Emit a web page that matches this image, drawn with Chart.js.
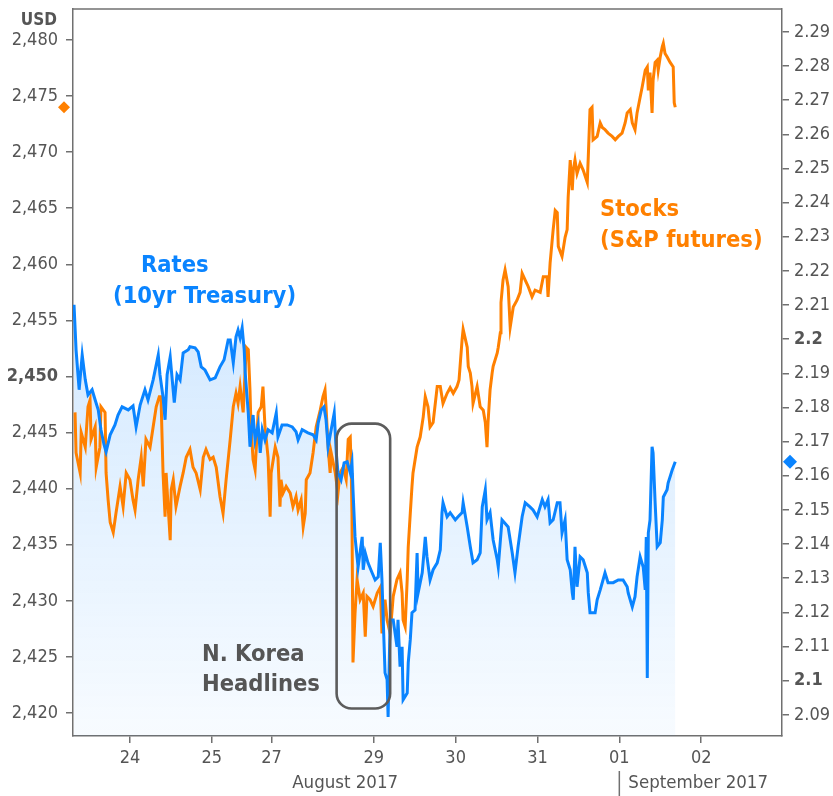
<!DOCTYPE html>
<html>
<head>
<meta charset="utf-8">
<script src="https://cdn.jsdelivr.net/npm/chart.js@4.4.1/dist/chart.umd.min.js"></script>
<style>
  html, body { margin: 0; padding: 0; background: #fff; }
</style>
</head>
<body>
<canvas id="rates-stocks-chart" width="833" height="796"></canvas>
<script>
// x values are trading hours on a compressed timeline (weekend cut out), Aug 23 00:00 = 0
const dayTickHours = [24, 48, 65.5, 95.5, 119.5, 143.5, 167.5, 191.5]
const dayTickLabels = ["24", "25", "27", "29", "30", "31", "01", "02"]
const usdTicks = [2420, 2425, 2430, 2435, 2440, 2445, 2450, 2455, 2460, 2465, 2470, 2475, 2480]
const yieldTicks = [2.09, 2.1, 2.11, 2.12, 2.13, 2.14, 2.15, 2.16, 2.17, 2.18, 2.19, 2.2, 2.21, 2.22, 2.23, 2.24, 2.25, 2.26, 2.27, 2.28, 2.29]

// Stocks (S&P futures), left axis
const stockHours = [
  7.9, 8.2, 9.4, 9.7, 10.9, 11.7, 12.3, 12.6, 13.8, 14.1, 15.2, 15.5, 16.7, 17.0, 17.6, 18.2, 19.1, 19.9, 21.1, 22.0,
  22.9, 24.0, 24.9, 25.5, 26.4, 27.3, 27.9, 28.7, 29.9, 30.8, 31.7, 32.6, 33.1, 33.7, 34.3, 34.6, 35.8, 36.1, 36.7, 37.5,
  38.7, 39.6, 40.5, 41.6, 42.5, 43.4, 44.6, 45.5, 46.3, 47.5, 48.4, 49.3, 50.4, 51.3, 52.2, 53.4, 54.3, 55.1, 55.7, 56.3,
  57.2, 58.1, 58.7, 59.2, 59.5, 60.1, 60.7, 61.6, 62.5, 63.0, 63.6, 64.5, 65.1, 65.4, 66.6, 67.4, 68.0, 68.3, 68.9, 69.8,
  71.0, 71.8, 72.7, 73.3, 74.2, 74.8, 75.4, 75.7, 76.8, 77.7, 78.6, 79.8, 80.6, 81.2, 81.5, 82.1, 82.7, 83.0, 84.2, 85.0,
  85.6, 86.5, 87.4, 88.0, 88.6, 88.9, 89.1, 89.4, 90.0, 90.6, 91.5, 92.4, 93.0, 93.5, 94.4, 95.3, 96.5, 97.4, 97.9, 98.8,
  99.4, 100.3, 101.2, 102.3, 103.2, 103.8, 104.1, 104.7, 105.3, 105.6, 106.2, 106.7, 107.0, 108.2, 109.1, 110.0, 110.6, 111.4, 112.0, 112.9,
  114.1, 115.0, 115.8, 117.0, 117.9, 118.8, 119.9, 120.5, 121.4, 121.7, 122.9, 123.2, 123.8, 124.3, 124.6, 125.8, 126.7, 127.6, 128.2, 128.7,
  129.0, 129.6, 130.2, 130.5, 131.7, 132.0, 132.6, 132.8, 133.4, 134.0, 134.9, 135.5, 136.4, 137.5, 138.4, 139.0, 139.9, 140.8, 141.9, 142.8,
  144.3, 145.2, 146.3, 146.6, 147.2, 148.1, 148.7, 149.3, 149.6, 150.7, 151.6, 152.2, 152.5, 153.1, 153.7, 154.0, 154.5, 155.1, 156.0, 156.9,
  158.1, 158.4, 158.9, 159.5, 159.8, 161.0, 161.9, 162.5, 163.3, 164.2, 165.4, 166.3, 167.2, 168.3, 169.2, 169.8, 170.7, 171.3, 172.1, 172.7,
  173.6, 174.2, 175.1, 175.7, 176.0, 176.5, 177.1, 177.4, 178.0, 178.6, 178.9, 179.5, 180.1, 180.4, 180.9, 181.5, 182.4, 183.3, 183.6, 183.9
]
const stockValues = [
  2446.8, 2443.2, 2441.4, 2445.0, 2443.7, 2447.3, 2447.9, 2444.4, 2445.5, 2441.9, 2443.7, 2447.3, 2446.8, 2441.4, 2439.0, 2437.0, 2436.1, 2437.8, 2440.2, 2438.4,
  2441.4, 2440.8, 2439.0, 2438.1, 2440.8, 2442.8, 2440.2, 2444.4, 2443.7, 2445.5, 2447.3, 2448.2, 2448.2, 2441.4, 2437.5, 2441.4, 2435.4, 2439.9, 2440.8, 2438.4,
  2440.2, 2441.4, 2442.8, 2443.5, 2441.9, 2441.4, 2439.9, 2442.8, 2443.5, 2442.6, 2442.8, 2441.9, 2439.3, 2437.8, 2440.8, 2444.4, 2447.3, 2448.5, 2447.6, 2449.1,
  2446.8, 2452.6, 2452.4, 2448.8, 2445.5, 2442.6, 2441.7, 2446.8, 2447.3, 2449.1, 2445.5, 2442.8, 2437.5, 2441.4, 2443.7, 2442.8, 2438.4, 2440.8, 2439.6, 2440.2,
  2439.6, 2438.4, 2439.3, 2438.1, 2439.0, 2436.6, 2437.8, 2440.8, 2441.4, 2443.2, 2445.5, 2447.0, 2448.2, 2448.8, 2447.3, 2443.7, 2441.4, 2443.2, 2441.4, 2439.6,
  2441.4, 2441.9, 2440.8, 2444.4, 2444.6, 2441.4, 2437.8, 2424.5, 2428.9, 2431.9, 2430.1, 2430.7, 2426.8, 2430.4, 2430.1, 2429.5, 2430.7, 2431.2, 2427.1, 2430.1,
  2428.3, 2427.1, 2430.4, 2431.9, 2432.5, 2430.7, 2428.3, 2427.7, 2431.9, 2434.8, 2437.8, 2440.2, 2441.4, 2443.7, 2444.6, 2446.4, 2448.2, 2447.3, 2445.5, 2445.9,
  2449.1, 2449.1, 2447.6, 2448.5, 2449.0, 2448.5, 2449.1, 2449.7, 2453.3, 2454.2, 2452.6, 2450.9, 2450.3, 2449.1, 2447.6, 2449.1, 2447.3, 2447.0, 2445.9, 2443.7,
  2445.9, 2448.8, 2450.3, 2450.9, 2452.1, 2452.6, 2453.9, 2456.6, 2458.6, 2459.5, 2458.0, 2454.4, 2456.2, 2456.8, 2457.5, 2459.2, 2458.6, 2458.0, 2457.1, 2457.7,
  2457.5, 2458.9, 2458.9, 2457.1, 2460.1, 2463.1, 2464.8, 2464.6, 2461.6, 2460.7, 2462.4, 2463.1, 2466.0, 2469.3, 2466.6, 2468.4, 2469.3, 2468.1, 2469.0, 2468.4,
  2467.3, 2469.6, 2473.8, 2474.0, 2471.1, 2471.4, 2472.6, 2472.2, 2472.0, 2471.7, 2471.4, 2471.1, 2471.4, 2471.7, 2472.6, 2473.5, 2473.8, 2472.6, 2472.0, 2473.5,
  2474.9, 2475.8, 2477.3, 2477.6, 2475.5, 2477.1, 2473.5, 2476.4, 2478.0, 2478.2, 2477.3, 2478.5, 2479.4, 2479.7, 2478.8, 2478.5, 2478.0, 2477.6, 2474.4, 2474.0
]

// Rates (10yr Treasury yield), right axis
const rateHours = [
  7.6, 8.2, 9.1, 10.0, 10.9, 11.7, 12.9, 13.8, 14.7, 15.5, 16.4, 17.0, 18.2, 19.6, 20.5, 21.7, 23.5, 24.9, 25.8, 27.0,
  28.4, 29.3, 30.8, 32.3, 32.8, 33.7, 34.3, 34.9, 35.8, 37.0, 37.8, 38.7, 39.6, 41.1, 41.6, 43.1, 44.0, 44.9, 46.0, 47.5,
  49.0, 50.4, 51.6, 52.8, 53.4, 54.3, 55.1, 55.7, 56.3, 56.9, 57.5, 57.8, 58.7, 59.2, 60.1, 60.7, 61.6, 62.2, 62.8, 63.6,
  64.5, 65.7, 66.9, 67.4, 68.6, 70.1, 71.6, 72.7, 73.3, 74.5, 76.2, 77.7, 78.6, 79.2, 80.1, 80.9, 81.5, 82.1, 83.0, 83.9,
  84.5, 85.0, 85.9, 86.8, 87.7, 88.6, 89.1, 89.4, 90.0, 90.9, 92.1, 92.4, 93.0, 93.8, 95.0, 95.9, 96.8, 97.4, 97.9, 98.2,
  98.8, 99.4, 99.7, 100.3, 101.2, 102.3, 102.6, 103.2, 103.8, 104.1, 105.3, 105.6, 106.2, 106.7, 107.6, 108.2, 108.5, 109.7, 110.6, 111.1,
  112.0, 112.9, 114.1, 115.0, 115.5, 115.8, 117.0, 117.9, 119.4, 120.2, 121.4, 121.7, 122.9, 123.8, 124.6, 125.8, 126.7, 127.3, 128.2, 128.7,
  129.6, 130.5, 131.7, 132.0, 133.1, 134.9, 136.1, 136.9, 137.8, 139.0, 139.9, 141.3, 142.2, 143.4, 144.9, 145.7, 146.6, 147.2, 148.1, 149.3,
  150.1, 150.7, 151.6, 152.2, 153.1, 153.7, 154.0, 154.5, 155.1, 156.0, 156.9, 158.1, 158.4, 158.9, 160.4, 161.0, 161.9, 163.3, 164.2, 165.7,
  167.2, 168.6, 169.8, 170.1, 171.3, 172.1, 172.7, 173.6, 174.5, 175.1, 175.4, 175.7, 176.0, 176.5, 177.1, 177.4, 178.0, 178.6, 179.5, 180.1,
  180.4, 181.5, 181.8, 183.0, 183.9
]
const rateValues = [
  2.2101, 2.1969, 2.1852, 2.1954, 2.1881, 2.1837, 2.1852, 2.1822, 2.1793, 2.1735, 2.1691, 2.1670, 2.1720, 2.1749, 2.1778, 2.1802, 2.1793, 2.1805, 2.1743, 2.1808,
  2.1852, 2.1822, 2.1881, 2.1954, 2.1896, 2.1831, 2.1764, 2.1896, 2.1948, 2.1814, 2.1896, 2.1881, 2.1960, 2.1969, 2.1978, 2.1975, 2.1963, 2.1919, 2.1910, 2.1881,
  2.1887, 2.1919, 2.1940, 2.1998, 2.1998, 2.1931, 2.2007, 2.2027, 2.2004, 2.2033, 2.1969, 2.1901, 2.1784, 2.1685, 2.1778, 2.1705, 2.1749, 2.1667, 2.1735, 2.1705,
  2.1735, 2.1726, 2.1784, 2.1714, 2.1749, 2.1749, 2.1743, 2.1729, 2.1705, 2.1735, 2.1726, 2.1720, 2.1705, 2.1755, 2.1793, 2.1802, 2.1764, 2.1685, 2.1735, 2.1784,
  2.1667, 2.1609, 2.1588, 2.1638, 2.1641, 2.1609, 2.1638, 2.1559, 2.1421, 2.1333, 2.1421, 2.1325, 2.1374, 2.1345, 2.1316, 2.1295, 2.1304, 2.1404, 2.1295, 2.1199,
  2.1023, 2.1003, 2.0894, 2.1178, 2.1178, 2.1099, 2.1178, 2.1041, 2.1099, 2.0944, 2.0964, 2.1052, 2.1120, 2.1199, 2.1207, 2.1374, 2.1257, 2.1316, 2.1421, 2.1363,
  2.1295, 2.1325, 2.1345, 2.1383, 2.1492, 2.1521, 2.1480, 2.1492, 2.1471, 2.1480, 2.1492, 2.1521, 2.1450, 2.1392, 2.1345, 2.1354, 2.1374, 2.1509, 2.1559, 2.1471,
  2.1492, 2.1412, 2.1354, 2.1333, 2.1471, 2.1450, 2.1374, 2.1316, 2.1392, 2.1480, 2.1521, 2.1509, 2.1500, 2.1480, 2.1530, 2.1509, 2.1530, 2.1462, 2.1471, 2.1521,
  2.1521, 2.1433, 2.1471, 2.1354, 2.1325, 2.1257, 2.1237, 2.1392, 2.1275, 2.1363, 2.1354, 2.1316, 2.1257, 2.1199, 2.1199, 2.1237, 2.1266, 2.1316, 2.1287, 2.1287,
  2.1295, 2.1295, 2.1275, 2.1257, 2.1216, 2.1246, 2.1304, 2.1363, 2.1333, 2.1266, 2.1421, 2.1008, 2.1433, 2.1471, 2.1685, 2.1667, 2.1521, 2.1392, 2.1404, 2.1471,
  2.1538, 2.1559, 2.1579, 2.1617, 2.1641
]

const BLUE = "#0a84ff"
const ORANGE = "#ff8000"
const AXIS = "#707070"
const LABEL = "#555555"
const FONT = '"DejaVu Sans Condensed", "DejaVu Sans", sans-serif'

const toPoints = (xs, ys) => xs.map((x, i) => ({ x: x, y: ys[i] }))

const rateFill = (context) => {
  const chart = context.chart
  const area = chart.chartArea
  if (!area) return "rgba(10,132,255,0.1)"
  const g = chart.ctx.createLinearGradient(0, 300, 0, area.bottom)
  g.addColorStop(0, "rgba(10,132,255,0.18)")
  g.addColorStop(1, "rgba(10,132,255,0.03)")
  return g
}

const diamond = (ctx, x, y, r, color) => {
  ctx.fillStyle = color
  ctx.beginPath()
  ctx.moveTo(x, y - r)
  ctx.lineTo(x + r, y)
  ctx.lineTo(x, y + r)
  ctx.lineTo(x - r, y)
  ctx.closePath()
  ctx.fill()
}

const annotations = {
  id: "annotations",
  afterDatasetsDraw(chart) {
    const { ctx, chartArea: area, scales } = chart
    ctx.save()

    // frame top
    ctx.strokeStyle = AXIS
    ctx.lineWidth = 1.5
    ctx.beginPath()
    ctx.moveTo(area.left, area.top)
    ctx.lineTo(area.right, area.top)
    ctx.stroke()

    // N. Korea headlines box
    const bx1 = scales.x.getPixelForValue(84.6)
    const bx2 = scales.x.getPixelForValue(100.3)
    const by1 = scales.usd.getPixelForValue(2445.8)
    const by2 = scales.usd.getPixelForValue(2420.4)
    ctx.strokeStyle = "#5c5c5c"
    ctx.lineWidth = 2.6
    ctx.beginPath()
    ctx.roundRect(bx1, by1, bx2 - bx1, by2 - by1, 15)
    ctx.stroke()

    ctx.textBaseline = "middle"
    ctx.textAlign = "left"
    ctx.font = "bold 23.5px " + FONT
    ctx.fillStyle = BLUE
    ctx.fillText("Rates", 141, 266)
    ctx.fillText("(10yr Treasury)", 113, 297)
    ctx.fillStyle = ORANGE
    ctx.fillText("Stocks", 600, 210)
    ctx.fillText("(S&P futures)", 600, 241)
    ctx.fillStyle = "#555555"
    ctx.fillText("N. Korea", 202, 655)
    ctx.fillText("Headlines", 202, 685)
    ctx.restore()
  },
  afterDraw(chart) {
    const { ctx, chartArea: area, scales } = chart
    ctx.save()
    // last-value markers on both axes
    diamond(ctx, area.left - 9, scales.usd.getPixelForValue(stockValues[stockValues.length - 1]), 6, ORANGE)
    diamond(ctx, area.right + 8, scales.yield.getPixelForValue(rateValues[rateValues.length - 1]), 7, BLUE)

    ctx.fillStyle = LABEL
    ctx.textBaseline = "middle"
    ctx.font = "bold 17px " + FONT
    ctx.textAlign = "right"
    ctx.fillText("USD", 57, 21)

    ctx.font = "18.5px " + FONT
    ctx.textAlign = "center"
    ctx.fillText("August 2017", scales.x.getPixelForValue(87.1), 783)
    const sep = scales.x.getPixelForValue(167.5)
    ctx.textAlign = "left"
    ctx.fillText("September 2017", sep + 9, 783)
    ctx.strokeStyle = AXIS
    ctx.lineWidth = 1.5
    ctx.beginPath()
    ctx.moveTo(sep, 771)
    ctx.lineTo(sep, 796)
    ctx.stroke()
    ctx.restore()
  }
}

const axisGrid = { display: true, drawOnChartArea: false, drawTicks: true, tickLength: 7, color: AXIS, lineWidth: 1.5 }
const axisBorder = { display: true, color: AXIS, width: 1.5 }
const noScalePadding = (scale) => {
  scale.paddingTop = 0
  scale.paddingBottom = 0
  scale.paddingLeft = 0
  scale.paddingRight = 0
}

new Chart(document.getElementById("rates-stocks-chart").getContext("2d"), {
  type: "line",
  data: {
    datasets: [
      {
        label: "Rates (10yr Treasury)",
        data: toPoints(rateHours, rateValues),
        yAxisID: "yield",
        borderColor: BLUE,
        borderWidth: 3,
        borderJoinStyle: "miter",
        pointRadius: 0,
        tension: 0,
        fill: "start",
        backgroundColor: rateFill
      },
      {
        label: "Stocks (S&P futures)",
        data: toPoints(stockHours, stockValues),
        yAxisID: "usd",
        borderColor: ORANGE,
        borderWidth: 3,
        borderJoinStyle: "miter",
        pointRadius: 0,
        tension: 0,
        fill: false
      }
    ]
  },
  options: {
    responsive: false,
    animation: false,
    devicePixelRatio: 1,
    layout: { padding: { top: 9, left: 0, right: 0, bottom: 0 } },
    plugins: {
      legend: { display: false },
      tooltip: { enabled: false },
      filler: { drawTime: "beforeDatasetsDraw" }
    },
    scales: {
      x: {
        type: "linear",
        min: 7.3,
        max: 215.2,
        grid: axisGrid,
        border: axisBorder,
        afterBuildTicks: (scale) => { scale.ticks = dayTickHours.map(v => ({ value: v })) },
        afterFit: (scale) => { scale.height = 60; noScalePadding(scale) },
        ticks: {
          autoSkip: false,
          maxRotation: 0,
          padding: 5,
          color: LABEL,
          font: { family: FONT, size: 18 },
          callback: (value) => dayTickLabels[dayTickHours.indexOf(value)]
        }
      },
      usd: {
        type: "linear",
        position: "left",
        min: 2417.95,
        max: 2482.76,
        grid: axisGrid,
        border: axisBorder,
        afterBuildTicks: (scale) => { scale.ticks = usdTicks.map(v => ({ value: v })) },
        afterFit: (scale) => { scale.width = 73; noScalePadding(scale) },
        ticks: {
          padding: 8,
          color: LABEL,
          font: (c) => ({ family: FONT, size: 18, weight: c.tick && c.tick.value === 2450 ? "bold" : "normal" }),
          callback: (value) => value.toLocaleString("en-US")
        }
      },
      yield: {
        type: "linear",
        position: "right",
        min: 2.0838,
        max: 2.2967,
        grid: axisGrid,
        border: axisBorder,
        afterBuildTicks: (scale) => { scale.ticks = yieldTicks.map(v => ({ value: v })) },
        afterFit: (scale) => { scale.width = 51; noScalePadding(scale) },
        ticks: {
          padding: 5,
          color: LABEL,
          font: (c) => ({ family: FONT, size: 18, weight: c.tick && (Math.abs(c.tick.value - 2.2) < 1e-9 || Math.abs(c.tick.value - 2.1) < 1e-9) ? "bold" : "normal" }),
          callback: (value) => String(+value.toFixed(2))
        }
      }
    }
  },
  plugins: [annotations]
})
</script>
</body>
</html>
